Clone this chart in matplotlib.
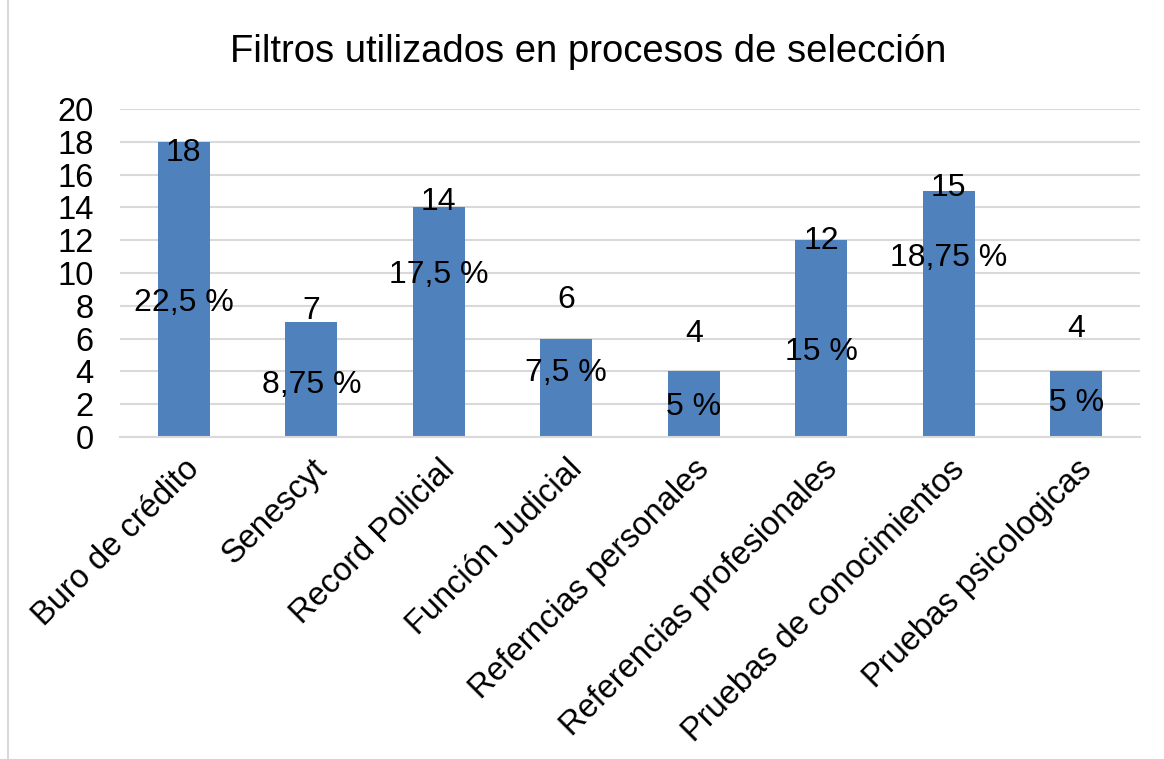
import numpy as np
import matplotlib.pyplot as plt

plt.rcParams['font.family'] = ['Liberation Sans', 'DejaVu Sans']

# data
categories = ["Buro de crédito", "Senescyt", "Record Policial", "Función Judicial",
              "Referncias personales", "Referencias profesionales",
              "Pruebas de conocimientos", "Pruebas psicologicas"]
values = [18, 7, 14, 6, 4, 12, 15, 4]
percents = ["22,5 %", "8,75 %", "17,5 %", "7,5 %", "5 %", "15 %", "18,75 %", "5 %"]

# where the data labels sit (y in data units, as placed in the original)
value_label_y = [17.3, 7.7, 14.3, 8.35, 6.3, 11.95, 15.2, 6.6]
pct_label_y = [8.2, 3.2, 9.9, 3.9, 1.8, 5.2, 10.9, 2.1]

DPI = 100
fig = plt.figure(figsize=(1164 / DPI, 759 / DPI), dpi=DPI)
ax = fig.add_axes([120 / 1164, 1 - 437 / 759, 1020 / 1164, 328 / 759])

x = np.arange(len(categories))
ax.bar(x, values, width=0.41, color='#4F81BD', zorder=2)

for i in range(len(categories)):
    ax.text(x[i], value_label_y[i], str(values[i]), ha='center', va='center',
            fontsize=23, zorder=3)
    ax.text(x[i], pct_label_y[i], percents[i], ha='center', va='center',
            fontsize=23, zorder=3)

ax.set_xlim(-0.5, len(categories) - 0.5)
ax.set_ylim(0, 20)
ax.set_yticks(np.arange(0, 21, 2))
ax.yaxis.grid(True, color='#D9D9D9', linewidth=1.5, zorder=0)
ax.set_axisbelow(True)
for s in ['top', 'right', 'left']:
    ax.spines[s].set_visible(False)
ax.spines['bottom'].set_color('#D9D9D9')
ax.spines['bottom'].set_linewidth(1.5)
ax.tick_params(axis='both', length=0, labelsize=23.5)
ax.tick_params(axis='y', pad=19)

ax.set_xticks(x)
ax.set_xticklabels(categories, rotation=45, ha='right', rotation_mode='anchor')
ax.tick_params(axis='x', pad=12)

fig.text(588 / 1164, 1 - 52 / 759, "Filtros utilizados en procesos de selección",
         ha='center', va='center', fontsize=27.5)

# chart frame line on the left
fig.add_artist(plt.Line2D([8 / 1164, 8 / 1164], [0, 1], color='#D9D9D9', linewidth=1.5))

fig.savefig('out.png', dpi=DPI)
